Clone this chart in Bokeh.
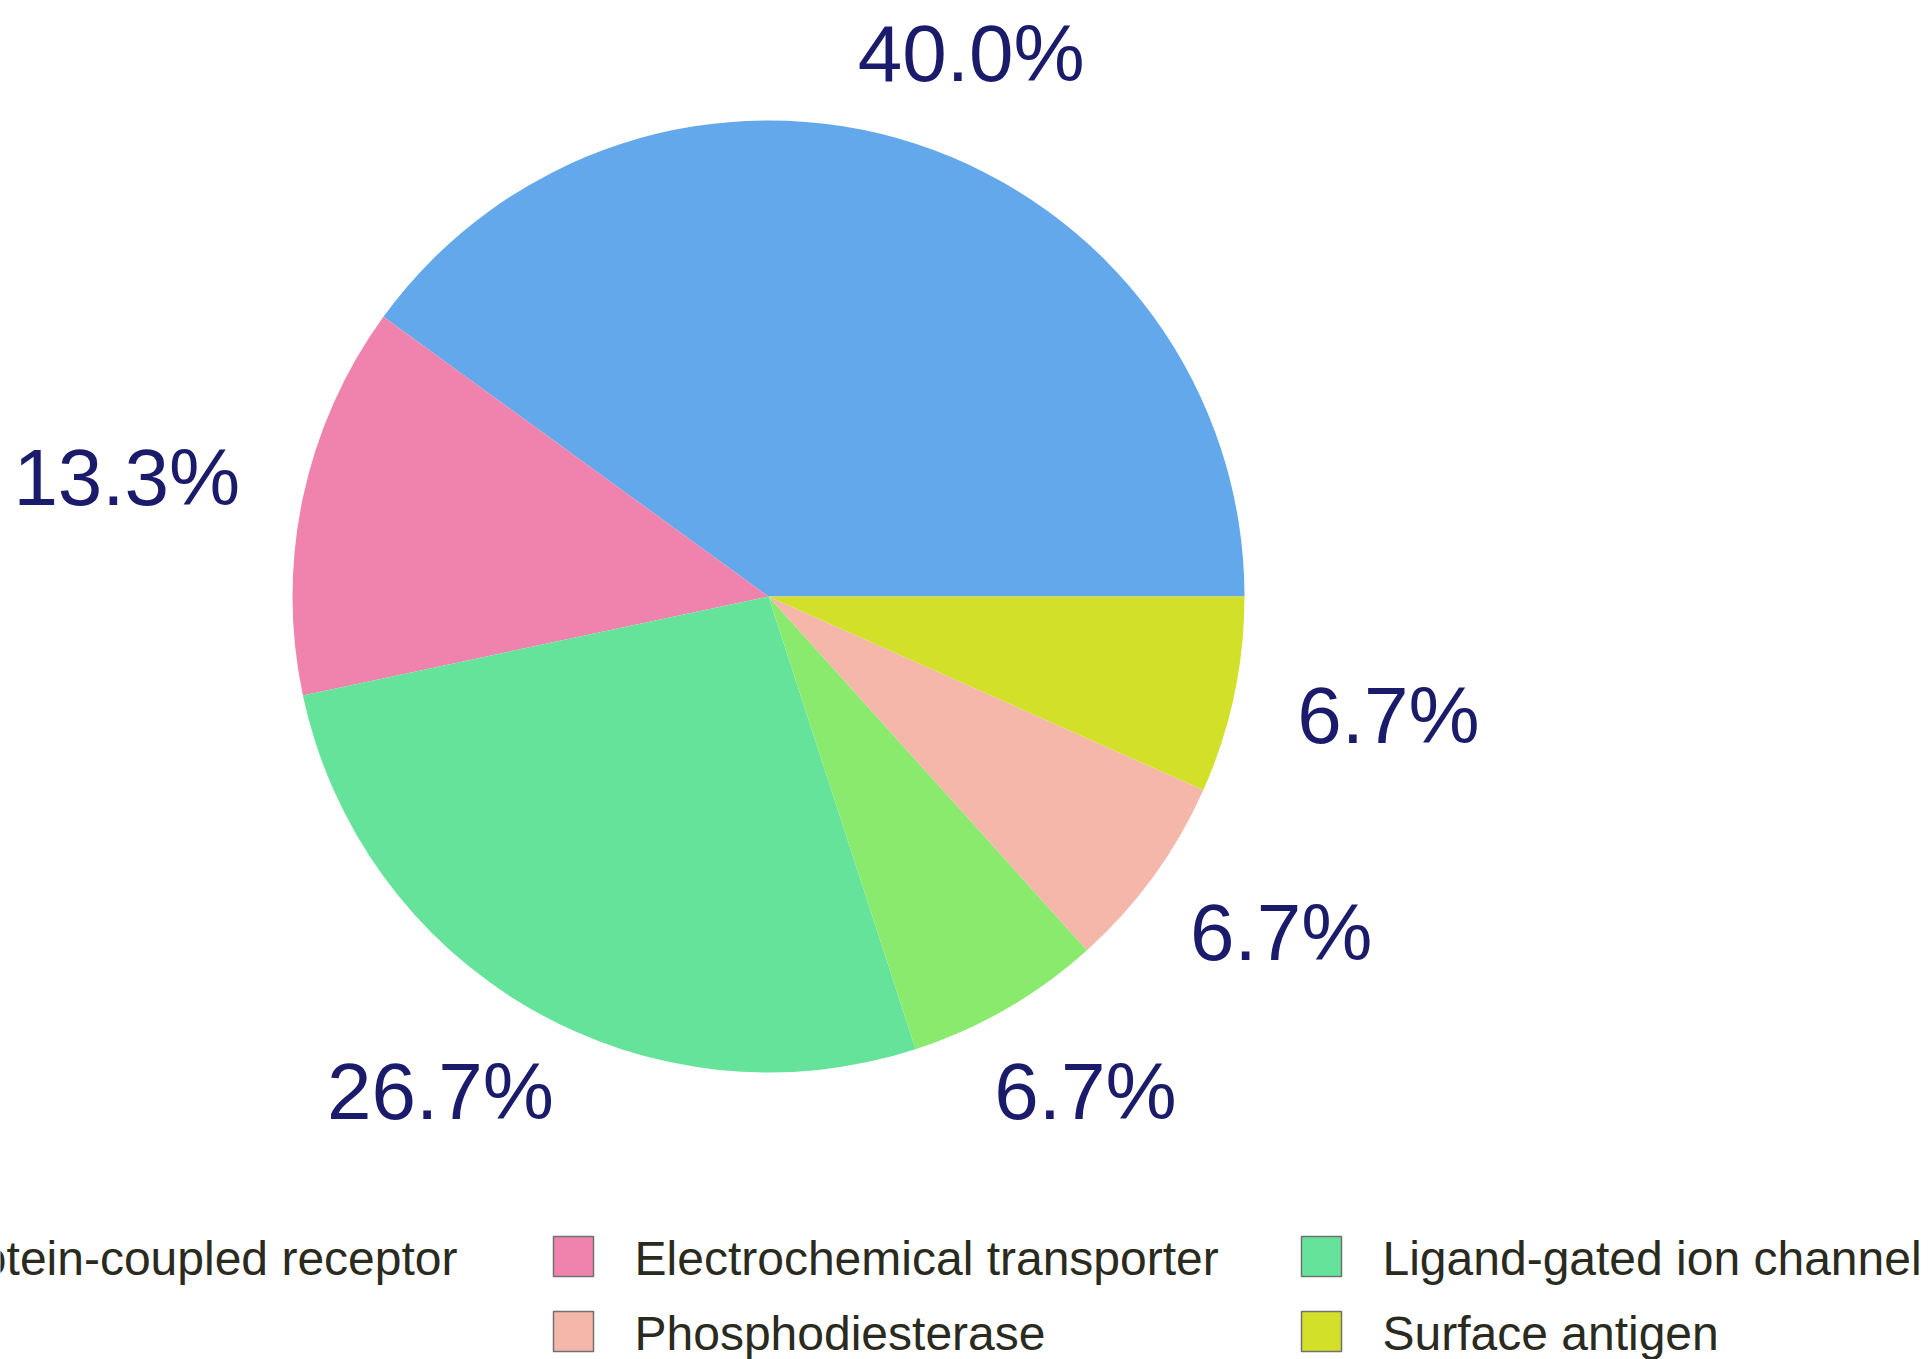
import math
from bokeh.plotting import figure
from bokeh.models import Range1d, ColumnDataSource
from bokeh.core.properties import value
from bokeh.embed import file_html
from bokeh.resources import INLINE

# ---- data ----
categories = ["G protein-coupled receptor", "Electrochemical transporter",
              "Ligand-gated ion channel", "", "Phosphodiesterase", "Surface antigen"]
counts = [6, 2, 4, 1, 1, 1]
colors = ["#64A8EC", "#F083AD", "#66E39B", "#8AEA6E", "#F5B7AA", "#D3E02A"]

# ---- layout constants ----
W, H = 1932, 1359
CX, CY, R = 768, 763, 476          # pie centre / radius (canvas px, y up)
LABEL_K = 1.14
LABEL_FS = 80
LEG_FS = 48
LEG_X0, LEG_DX = 553 - 748, 748    # column 0 swatch left edge, column spacing
LEG_Y0, LEG_DY = 103, 75           # row 0 centre, row spacing
NCOLS = 3

p = figure(width=W, height=H, output_backend="svg", toolbar_location=None,
           x_range=Range1d(0, W), y_range=Range1d(0, H), min_border=0)
p.axis.visible = False
p.grid.visible = False
p.outline_line_color = None
p.background_fill_color = "white"
p.border_fill_color = "white"

total = sum(counts)
starts, ends, mids = [], [], []
acc = 0.0
for c in counts:
    a0 = acc / total * 2 * math.pi
    acc += c
    a1 = acc / total * 2 * math.pi
    starts.append(a0); ends.append(a1); mids.append((a0 + a1) / 2)

src = ColumnDataSource(dict(start=starts, end=ends, color=colors))
p.wedge(x=CX, y=CY, radius=R, start_angle="start", end_angle="end",
        fill_color="color", line_color=None, source=src)

# ---- percentage labels ----
cw = {d: 0.556 for d in "0123456789"}
cw.update({".": 0.278, "%": 0.889})
labels = ["%.1f%%" % (c / total * 100) for c in counts]
lx, ly = [], []
for lab, m in zip(labels, mids):
    hw = sum(cw[ch] for ch in lab) * LABEL_FS / 2
    hh = 0.36 * LABEL_FS
    lx.append(CX + LABEL_K * R * math.cos(m) + math.cos(m) * hw)
    ly.append(CY + LABEL_K * R * math.sin(m) + math.sin(m) * hh)
p.text(x=lx, y=ly, text=labels, text_align="center", text_baseline="middle",
       text_font=value("Liberation Sans"), text_font_size="%dpx" % LABEL_FS,
       text_color="#1B1B6B")

# ---- legend ----
sx, sy, sc, tx, ty, tt = [], [], [], [], [], []
for i, (name, col) in enumerate(zip(categories, colors)):
    if not name:
        continue
    r, c = divmod(i, NCOLS)
    left = LEG_X0 + c * LEG_DX
    yc = LEG_Y0 - r * LEG_DY
    sx.append(left + 20); sy.append(yc); sc.append(col)
    tx.append(left + 81); ty.append(yc - 2); tt.append(name)
p.rect(x=sx, y=sy, width=40, height=40, fill_color=sc, line_color="#707070", line_width=1.5)
p.text(x=tx, y=ty, text=tt, text_align="left", text_baseline="middle",
       text_font=value("Liberation Sans"), text_font_size="%dpx" % LEG_FS,
       text_color="#2A2A1E")

open("out.html", "w").write(file_html(p, INLINE))
